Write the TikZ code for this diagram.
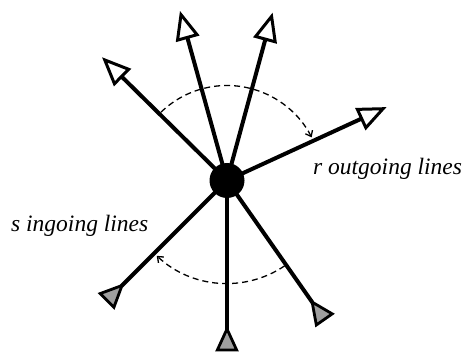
\documentclass[tikz,border=0pt]{standalone}
\usepackage{fontspec}
\setmainfont{Liberation Serif}
\usetikzlibrary{arrows.meta,calc}
\begin{document}
\begin{tikzpicture}[x=1pt,y=1pt,
  outline/.style={line width=4pt,-{Triangle[open,length=29pt,width=24pt,line width=3pt]}},
  inline/.style={line width=4pt,{Triangle[reversed,fill=gray!75,length=26pt,width=23pt,line width=2.8pt]}-},
  sweep/.style={line width=1.3pt,dash pattern=on 6pt off 4pt,-{Straight Barb[length=5pt,width=8pt]}},
  lbl/.style={font=\fontsize{23.5}{26}\selectfont\itshape,inner sep=0pt}]
\useasboundingbox (0,0) rectangle (467,354);
\coordinate (c) at (227,173.5);
\coordinate (o1) at ($(c)+(135.4:175.6)$);
\coordinate (o2) at ($(c)+(105.5:176)$);
\coordinate (o3) at ($(c)+(74.8:174)$);
\coordinate (o4) at ($(c)+(24.7:175.7)$);
\coordinate (i1) at ($(c)+(225:171)$);
\coordinate (i2) at ($(c)+(270:171)$);
\coordinate (i3) at ($(c)+(305:171)$);
\foreach \o in {o1,o2,o3,o4} \draw[outline] (c) -- (\o);
\foreach \i in {i1,i2,i3} \draw[inline] (\i) -- (c);
\node[circle,fill=black,minimum size=35pt,inner sep=0pt] (hub) at (c) {};
\coordinate (a1) at ($(c)+(134:95)$);
\draw[sweep] (a1) arc[start angle=134,end angle=27,radius=95];
\coordinate (a2) at ($(c)+(304:103)$);
\draw[sweep] (a2) arc[start angle=304,end angle=227,radius=103];
\node[lbl,anchor=base west] (rl) at (313,179) {r outgoing lines};
\node[lbl,anchor=base west] (sl) at (11,122.3) {s ingoing lines};
\end{tikzpicture}
\end{document}
